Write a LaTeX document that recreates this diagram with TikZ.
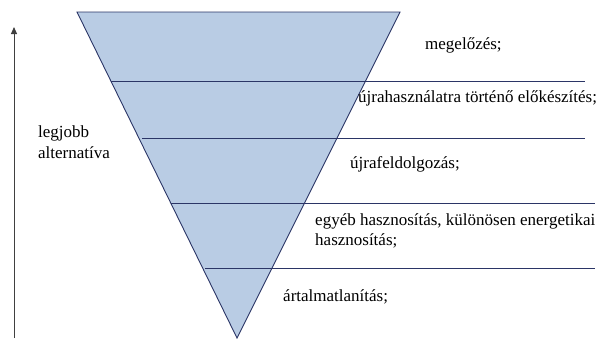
\documentclass[tikz,border=0pt]{standalone}
\usepackage{fontspec}
\setmainfont{Liberation Serif}
\newfontfamily\refserif{Liberation Serif}
\usetikzlibrary{arrows.meta}
\definecolor{fillblue}{HTML}{B9CCE4}
\definecolor{edgeblue}{HTML}{2B3566}
\begin{document}
\begin{tikzpicture}[x=1pt,y=-1pt,
  lvl/.style={draw=edgeblue,line width=0.9pt},
  lbl/.style={anchor=west,inner sep=0pt,font=\refserif\fontsize{17}{19}\selectfont,text=black}]
\useasboundingbox (0,0) rectangle (603,338);
\coordinate (tl) at (77,12);
\coordinate (tr) at (400,12);
\coordinate (ap) at (237,338);
\fill[fillblue] (tl) -- (tr) -- (ap) -- cycle;
\draw[edgeblue,line width=0.9pt] (tl) -- (tr) -- (ap) -- cycle;
\coordinate (l1a) at (111,81);  \coordinate (l1b) at (585,81);
\coordinate (l2a) at (142,138); \coordinate (l2b) at (585,138);
\coordinate (l3a) at (171,203); \coordinate (l3b) at (595,203);
\coordinate (l4a) at (205,268); \coordinate (l4b) at (595,268);
\draw[lvl] (l1a) -- (l1b);
\draw[lvl] (l2a) -- (l2b);
\draw[lvl] (l3a) -- (l3b);
\draw[lvl] (l4a) -- (l4b);
\coordinate (ab) at (14,338);
\coordinate (at) at (14,27);
\draw[black!75,line width=1pt,-{Triangle[length=7pt,width=6pt]}] (ab) -- (at);
\node[lbl] (t1) at (425,45) {megelőzés;};
\node[lbl] (t2) at (358,98) {újrahasználatra történő előkészítés;};
\node[lbl] (t3) at (350,164) {újrafeldolgozás;};
\node[lbl] (t4) at (315,221) {egyéb hasznosítás, különösen energetikai};
\node[lbl] (t5) at (315,241) {hasznosítás;};
\node[lbl] (t6) at (283,297) {ártalmatlanítás;};
\node[lbl] (t7) at (38,133) {legjobb};
\node[lbl] (t8) at (38,153) {alternatíva};
\end{tikzpicture}
\end{document}
